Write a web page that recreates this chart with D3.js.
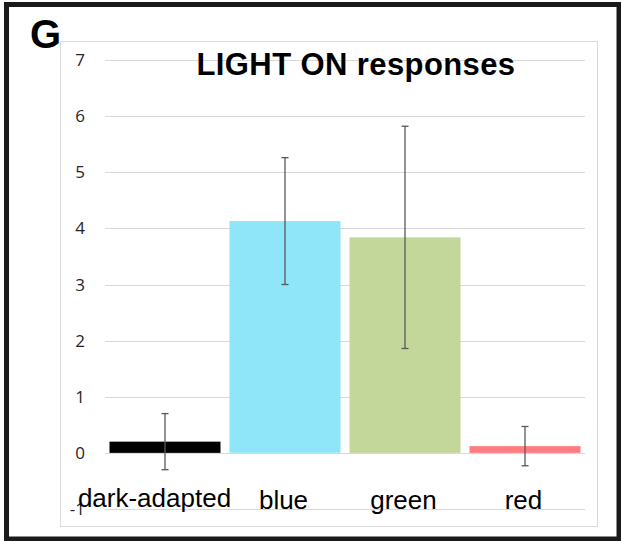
<!DOCTYPE html>
<html>
<head>
<meta charset="utf-8">
<script src="https://cdn.jsdelivr.net/npm/d3@7"></script>
<style>
  body { margin: 0; background: #fff; }
  svg { display: block; }
</style>
</head>
<body>
<script>
var categories = ["dark-adapted", "blue", "green", "red"]
var values = [0.2, 4.13, 3.84, 0.12]
var errors = [0.5, 1.13, 1.98, 0.35]
var barColors = ["#000000", "#8fe6f9", "#c4d79b", "#ff7c80"]
var yTicks = [-1, 0, 1, 2, 3, 4, 5, 6, 7]

var W = 621, H = 541

var svg = d3.select("body").append("svg")
  .attr("width", W)
  .attr("height", H)

// outer panel frame
svg.append("rect")
  .attr("x", 6.5).attr("y", 4.5)
  .attr("width", 612.5).attr("height", 534.5)
  .attr("fill", "#fff")
  .attr("stroke", "#1a1a1a")
  .attr("stroke-width", 5)

// chart area border
svg.append("rect")
  .attr("x", 60.5).attr("y", 41.5)
  .attr("width", 537).attr("height", 485)
  .attr("fill", "none")
  .attr("stroke", "#d9d9d9")
  .attr("stroke-width", 1)

var x = d3.scaleBand()
  .domain(categories)
  .range([105, 585])
  .paddingInner(0.075)
  .paddingOuter(0.0375)

var y = d3.scaleLinear()
  .domain([-1, 7])
  .range([509, 60])

// gridlines
svg.append("g")
  .selectAll("line")
  .data(yTicks)
  .join("line")
  .attr("x1", 105).attr("x2", 585)
  .attr("y1", d => Math.round(y(d)) + 0.5)
  .attr("y2", d => Math.round(y(d)) + 0.5)
  .attr("stroke", "#d9d9d9")
  .attr("stroke-width", 1)

// y axis labels
svg.append("g")
  .selectAll("text")
  .data(yTicks)
  .join("text")
  .attr("x", 85)
  .attr("y", d => y(d))
  .attr("dy", "0.36em")
  .attr("text-anchor", "end")
  .style("font-family", "'Open Sans', sans-serif")
  .style("font-size", "17px")
  .style("fill", "#262626")
  .text(d => d)

// bars
svg.append("g")
  .selectAll("rect")
  .data(values)
  .join("rect")
  .attr("x", (d, i) => x(categories[i]))
  .attr("width", x.bandwidth())
  .attr("y", d => y(Math.max(0, d)))
  .attr("height", d => Math.abs(y(d) - y(0)))
  .attr("fill", (d, i) => barColors[i])

// error bars
var eb = svg.append("g")
  .attr("stroke", "#595959")
  .attr("stroke-width", 1.3)

values.forEach(function (v, i) {
  var cx = x(categories[i]) + x.bandwidth() / 2
  var top = y(v + errors[i])
  var bot = y(v - errors[i])
  eb.append("line").attr("x1", cx).attr("x2", cx).attr("y1", top).attr("y2", bot)
  eb.append("line").attr("x1", cx - 3.5).attr("x2", cx + 3.5).attr("y1", top).attr("y2", top)
  eb.append("line").attr("x1", cx - 3.5).attr("x2", cx + 3.5).attr("y1", bot).attr("y2", bot)
})

// category labels (the long first one sits a bit to the left, as in the original)
svg.append("g")
  .selectAll("text")
  .data(categories)
  .join("text")
  .attr("x", d => x(d) + x.bandwidth() / 2)
  .attr("dx", (d, i) => i == 0 ? -10.5 : -1.5)
  .attr("y", (d, i) => i == 0 ? 507 : 509)
  .attr("text-anchor", "middle")
  .style("font-family", "'Liberation Sans', Arial, sans-serif")
  .style("font-size", "26px")
  .style("fill", "#000")
  .text(d => d)

// title
svg.append("text")
  .attr("x", 356)
  .attr("y", 75)
  .attr("text-anchor", "middle")
  .style("font-family", "'Liberation Sans', Arial, sans-serif")
  .style("font-weight", "bold")
  .style("font-size", "31px")
  .style("letter-spacing", "0.4px")
  .text("LIGHT ON responses")

// panel letter
svg.append("text")
  .attr("x", 30)
  .attr("y", 48)
  .style("font-family", "'Liberation Sans', Arial, sans-serif")
  .style("font-weight", "bold")
  .style("font-size", "40px")
  .text("G")
</script>
</body>
</html>
